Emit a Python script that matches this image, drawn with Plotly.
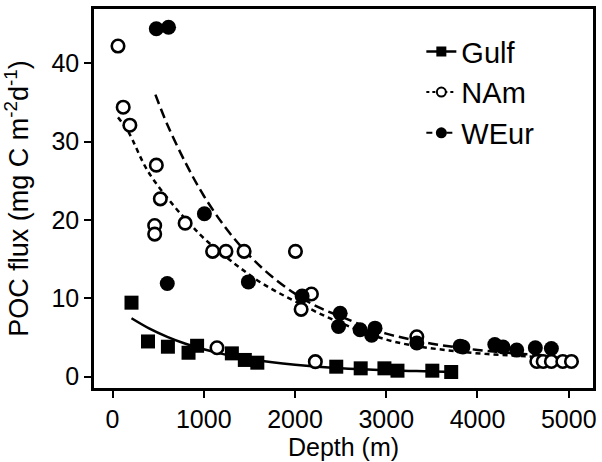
import plotly.graph_objects as go

# ---- data ----
gulf_depth = [208, 389, 607, 833, 927, 1308, 1450, 1587, 2452, 2720, 2980, 3123, 3505, 3712]
gulf_flux = [9.45, 4.5, 3.83, 3.06, 3.95, 2.98, 2.14, 1.79, 1.28, 1.07, 1.07, 0.77, 0.77, 0.6]

nam_depth = [60, 117, 190, 462, 462, 480, 524, 796, 1097, 1145, 1243, 1442, 2005, 2067, 2180, 2223,
             3335, 4650, 4720, 4810, 4935, 5030]
nam_flux = [42.2, 34.4, 32.1, 19.3, 18.2, 27.0, 22.7, 19.6, 16.0, 3.7, 16.0, 16.0, 16.0, 8.6, 10.56, 1.92,
            5.1, 1.95, 1.95, 1.95, 1.95, 1.95]

weur_depth = [480, 614, 600, 1007, 1489, 2078, 2495, 2477, 2713, 2877, 2840, 3335, 3810, 3840,
              4190, 4280, 4430, 4634, 4810]
weur_flux = [44.4, 44.6, 11.9, 20.8, 12.1, 10.3, 8.1, 6.4, 6.0, 6.2, 5.3, 4.3, 3.9, 3.8,
             4.1, 3.8, 3.4, 3.7, 3.6]

# fitted curves
gulf_fit_depth = [208, 400, 600, 800, 1000, 1250, 1500, 1750, 2000, 2250, 2500, 2750, 3000, 3250, 3500, 3780]
gulf_fit_flux = [7.46, 6.17, 5.09, 4.21, 3.50, 2.79, 2.25, 1.84, 1.52, 1.27, 1.08, 0.94, 0.82, 0.74, 0.67, 0.61]

nam_fit_depth = [60, 171, 389, 680, 843, 1007, 1352, 1642, 2005, 2513, 3077, 3803, 4601, 5030]
nam_fit_flux = [33.1, 31.3, 26.2, 21.7, 19.6, 17.6, 14.3, 11.9, 9.6, 6.8, 4.5, 3.2, 2.55, 2.3]

weur_fit_depth = [470, 600, 800, 1000, 1250, 1500, 1750, 2000, 2250, 2500, 2750, 3000, 3250, 3500,
                  3750, 4000, 4250, 4500, 4800]
weur_fit_flux = [36.0, 32.2, 27.3, 23.1, 18.85, 15.46, 12.75, 10.6, 8.9, 7.7, 6.5, 5.5, 4.8, 4.22,
                 3.78, 3.42, 3.13, 2.9, 2.69]

series_names = ["Gulf", "NAm", "WEur"]
x_ticks = [0, 1000, 2000, 3000, 4000, 5000]
y_ticks = [0, 10, 20, 30, 40]

FONT = "Liberation Sans, Arial, sans-serif"
LW = 2.5
NAM_DASH = "5px,4px"
WEUR_DASH = "10px,5px"

fig = go.Figure()

# fit lines
fig.add_trace(go.Scatter(x=gulf_fit_depth, y=gulf_fit_flux, mode="lines",
                         line=dict(color="black", width=LW, shape="spline"),
                         showlegend=False, hoverinfo="skip"))
fig.add_trace(go.Scatter(x=nam_fit_depth, y=nam_fit_flux, mode="lines",
                         line=dict(color="black", width=LW, dash=NAM_DASH, shape="spline"),
                         showlegend=False, hoverinfo="skip"))
fig.add_trace(go.Scatter(x=weur_fit_depth, y=weur_fit_flux, mode="lines",
                         line=dict(color="black", width=LW, dash=WEUR_DASH, shape="spline"),
                         showlegend=False, hoverinfo="skip"))

# data points
fig.add_trace(go.Scatter(x=gulf_depth, y=gulf_flux, mode="markers",
                         marker=dict(symbol="square", size=14, color="black"), showlegend=False))
fig.add_trace(go.Scatter(x=nam_depth, y=nam_flux, mode="markers",
                         marker=dict(symbol="circle", size=12.5, color="white",
                                     line=dict(color="black", width=2.6)),
                         showlegend=False))
fig.add_trace(go.Scatter(x=weur_depth, y=weur_flux, mode="markers",
                         marker=dict(symbol="circle", size=15, color="black"), showlegend=False))

# legend entries
fig.add_trace(go.Scatter(x=[None], y=[None], mode="lines+markers", name=series_names[0],
                         line=dict(color="black", width=LW),
                         marker=dict(symbol="square", size=10, color="black")))
fig.add_trace(go.Scatter(x=[None], y=[None], mode="lines+markers", name=series_names[1],
                         line=dict(color="black", width=LW - 0.5, dash="3px,3px"),
                         marker=dict(symbol="circle", size=9, color="white",
                                     line=dict(color="black", width=2))))
fig.add_trace(go.Scatter(x=[None], y=[None], mode="lines+markers", name=series_names[2],
                         line=dict(color="black", width=LW - 0.5, dash="6px,4px"),
                         marker=dict(symbol="circle", size=11, color="black")))

axis_common = dict(showline=True, mirror=True, linecolor="black", linewidth=LW,
                   ticks="outside", ticklen=7, tickwidth=2, tickcolor="black",
                   showgrid=False, zeroline=False,
                   tickfont=dict(family=FONT, size=25, color="black"))

fig.update_layout(
    width=602, height=462,
    margin=dict(l=94, r=6, t=9, b=74),
    paper_bgcolor="white", plot_bgcolor="white",
    font=dict(family=FONT, color="black"),
    xaxis=dict(range=[-203, 5266], tickvals=x_ticks,
               title=dict(text="Depth (m)", font=dict(family=FONT, size=25), standoff=2),
               **axis_common),
    yaxis=dict(range=[-1.44, 46.93], tickvals=y_ticks,
               title=dict(text="POC flux (mg C m<sup>-2</sup>d<sup>-1</sup>)",
                          font=dict(family=FONT, size=27), standoff=16),
               **axis_common),
    legend=dict(x=0.656, y=0.955, xanchor="left", yanchor="top", bgcolor="rgba(0,0,0,0)",
                font=dict(family=FONT, size=29, color="black"), tracegroupgap=0),
)

fig.write_html("out.html")
